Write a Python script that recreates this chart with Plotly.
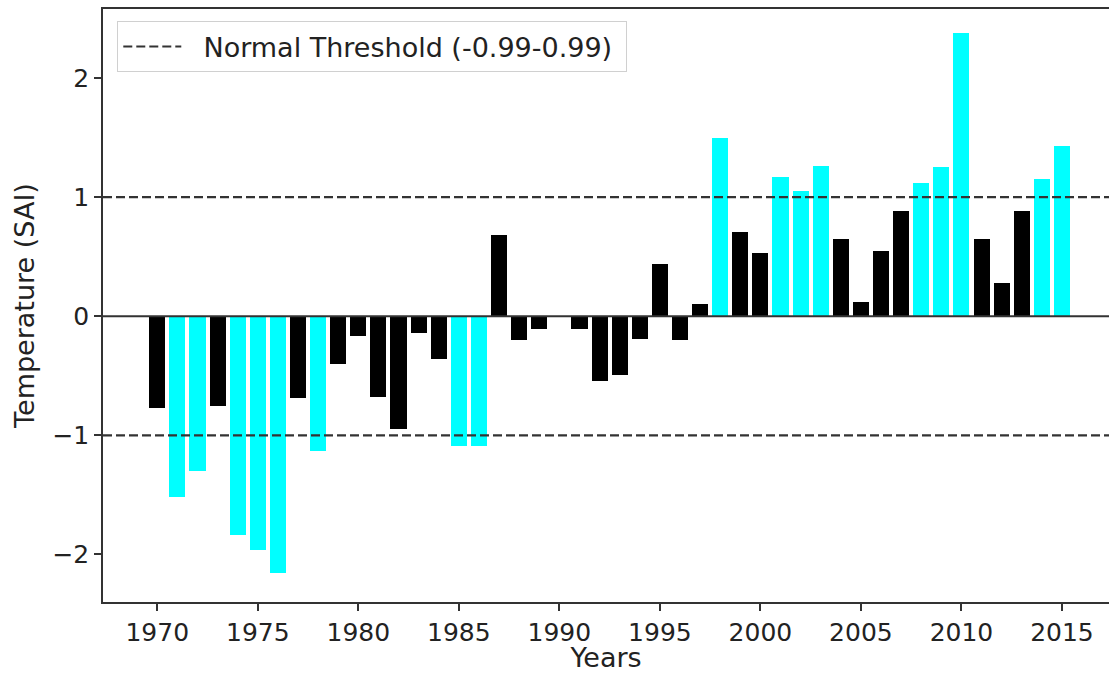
import plotly.graph_objects as go

years = list(range(1970, 2016))
sai = [-0.77, -1.52, -1.30, -0.75, -1.84, -1.96, -2.16, -0.69, -1.13, -0.40,
       -0.17, -0.68, -0.95, -0.14, -0.36, -1.09, -1.09, 0.68, -0.20, -0.11,
       0.00, -0.11, -0.54, -0.49, -0.19, 0.44, -0.20, 0.10, 1.50, 0.71,
       0.53, 1.17, 1.05, 1.26, 0.65, 0.12, 0.55, 0.88, 1.12, 1.25,
       2.38, 0.65, 0.28, 0.88, 1.15, 1.43]
threshold = 0.99
threshold_lines = [1.0, -1.0]
legend_label = "Normal Threshold (-0.99-0.99)"
x_range = [1967.30, 2017.34]
y_range = [-2.40, 2.58]
y_ticks = [-2, -1, 0, 1, 2]
x_ticks = list(range(1970, 2016, 5))

colors = ["#00FFFF" if abs(v) > threshold else "#000000" for v in sai]

fig = go.Figure()
fig.add_trace(go.Bar(x=years, y=sai, width=0.8, marker=dict(color=colors, line=dict(width=0)),
                     showlegend=False, hoverinfo="x+y"))

# zero line
fig.add_trace(go.Scatter(x=x_range, y=[0, 0], mode="lines", line=dict(color="#333333", width=2),
                         showlegend=False, hoverinfo="skip"))

for i, t in enumerate(threshold_lines):
    fig.add_trace(go.Scatter(x=x_range, y=[t, t], mode="lines",
                             line=dict(color="#333333", width=2.2, dash="9px,4px"),
                             name="\u00a0\u00a0" + legend_label + "\u00a0", showlegend=(i == 0),
                             hoverinfo="skip"))

font_color = "#222222"
fig.update_layout(
    width=1109, height=673,
    margin=dict(l=103, r=0, t=9, b=71),
    plot_bgcolor="white", paper_bgcolor="white",
    font=dict(family="DejaVu Sans", size=24, color=font_color),
    bargap=0,
    legend=dict(x=0.0142, y=0.979, xanchor="left", yanchor="top",
                bgcolor="white", bordercolor="#d0d0d0", borderwidth=1,
                font=dict(size=27, color=font_color), itemwidth=58,
                tracegroupgap=0),
    xaxis=dict(range=x_range, tickvals=x_ticks, showgrid=False, zeroline=False,
               showline=True, linecolor="#333333", linewidth=1.5, mirror=True,
               ticks="outside", ticklen=7, tickcolor="#333333", tickwidth=1.5,
               tickfont=dict(size=25), automargin=False,
               title=dict(text="Years", standoff=6, font=dict(size=27))),
    yaxis=dict(range=y_range, tickvals=y_ticks, showgrid=False, zeroline=False,
               showline=True, linecolor="#333333", linewidth=1.5, mirror=False,
               ticks="outside", ticklen=7, tickcolor="#333333", tickwidth=1.5,
               tickfont=dict(size=25), automargin=False,
               title=dict(text="Temperature (SAI)", standoff=10, font=dict(size=27))),
)

fig.write_html("out.html")
